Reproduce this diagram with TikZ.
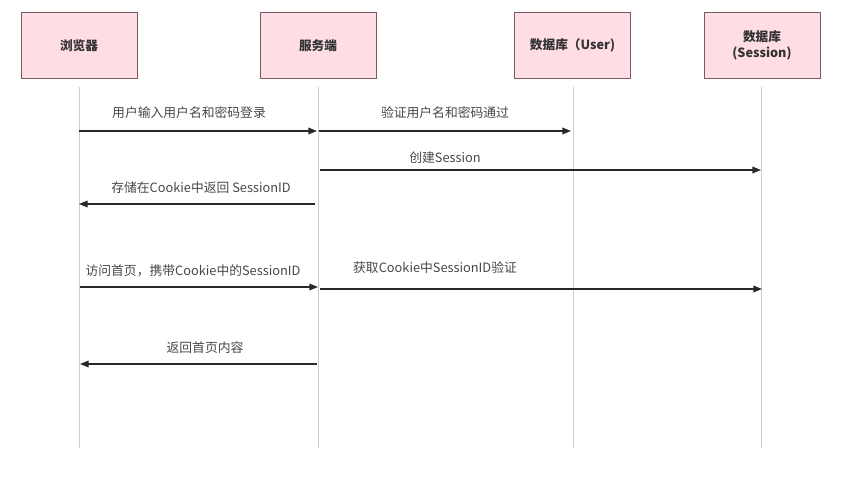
\documentclass[tikz,border=0pt]{standalone}
\usepackage{fontspec}
\setmainfont{Noto Sans CJK SC}
\usetikzlibrary{arrows.meta}
\definecolor{boxfill}{RGB}{255,221,228}
\definecolor{boxline}{RGB}{120,90,95}
\definecolor{lifeline}{RGB}{205,205,205}
\definecolor{msg}{RGB}{40,40,40}
\begin{document}
\begin{tikzpicture}[x=0.75pt,y=-0.75pt,
  actor/.style={draw=boxline,fill=boxfill,line width=0.6pt,minimum width=87pt,minimum height=50pt,inner sep=0pt,align=center,font=\fontsize{9.5}{11.5}\selectfont\bfseries,text=black!80},
  life/.style={draw=lifeline,line width=0.6pt},
  msgarrow/.style={draw=msg,line width=1pt,-{Triangle[length=6.5pt,width=5pt]}},
  lbl/.style={font=\fontsize{9.6}{11}\selectfont,text=black!72,inner sep=0pt}]
\useasboundingbox (0,0) rectangle (853,478);
\node[actor] (b) at (79,45.5) {浏览器};
\node[actor] (s) at (318,45.5) {服务端};
\node[actor] (u) at (572.5,45.5) {数据库（User)};
\node[actor] (d) at (762,45.5) {数据库\\(Session)};
\coordinate (bt) at (79,87); \coordinate (bb) at (79,448);
\coordinate (st) at (318,87); \coordinate (sb) at (318,448);
\coordinate (ut) at (573,87); \coordinate (ub) at (573,448);
\coordinate (dt) at (761,87); \coordinate (db) at (761,448);
\draw[life] (bt) -- (bb);
\draw[life] (st) -- (sb);
\draw[life] (ut) -- (ub);
\draw[life] (dt) -- (db);
% messages
\coordinate (m1a) at (79,131); \coordinate (m1b) at (317,131);
\draw[msgarrow] (m1a) -- (m1b);
\node[lbl] (l1) at (189,113) {用户输入用户名和密码登录};
\coordinate (m2a) at (319,131); \coordinate (m2b) at (571,131);
\draw[msgarrow] (m2a) -- (m2b);
\node[lbl] (l2) at (445,113) {验证用户名和密码通过};
\coordinate (m3a) at (320,170); \coordinate (m3b) at (761,170);
\draw[msgarrow] (m3a) -- (m3b);
\node[lbl] (l3) at (445,158) {创建Session};
\coordinate (m4a) at (315,204); \coordinate (m4b) at (79,204);
\draw[msgarrow] (m4a) -- (m4b);
\node[lbl] (l4) at (201,188) {存储在Cookie中返回 SessionID};
\coordinate (m5a) at (80,287); \coordinate (m5b) at (318,287);
\draw[msgarrow] (m5a) -- (m5b);
\node[lbl] (l5) at (193,271) {访问首页，携带Cookie中的SessionID};
\coordinate (m6a) at (320,289); \coordinate (m6b) at (762,289);
\draw[msgarrow] (m6a) -- (m6b);
\node[lbl] (l6) at (435,268) {获取Cookie中SessionID验证};
\coordinate (m7a) at (317,364); \coordinate (m7b) at (80,364);
\draw[msgarrow] (m7a) -- (m7b);
\node[lbl] (l7) at (205,348) {返回首页内容};
\end{tikzpicture}
\end{document}
